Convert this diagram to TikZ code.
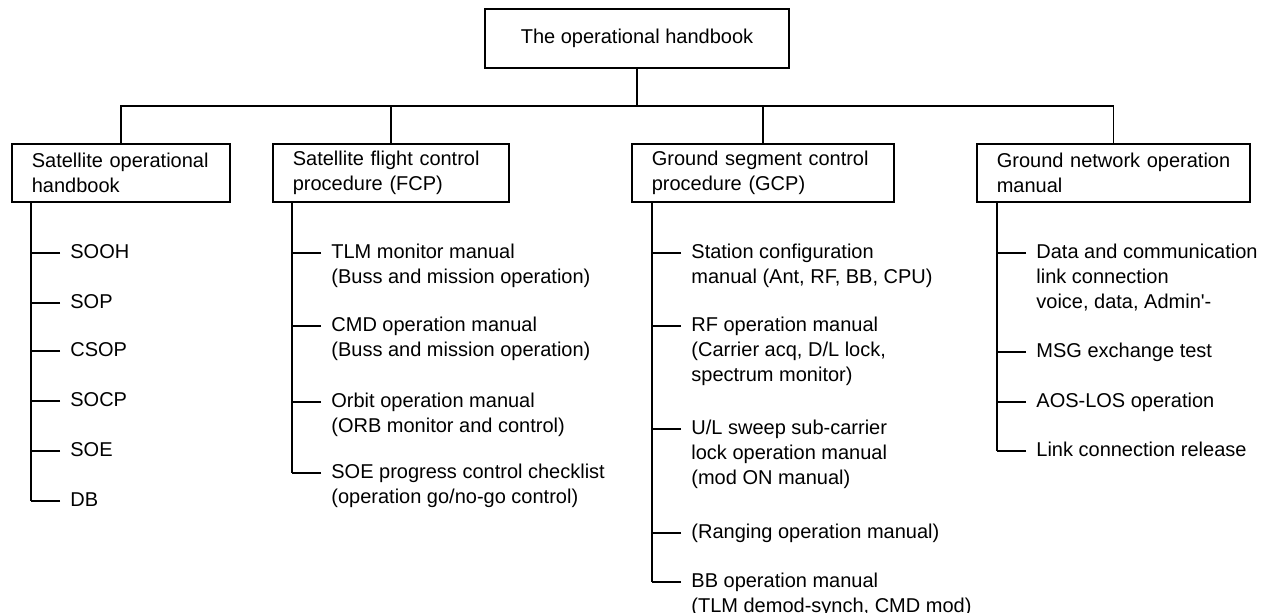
\documentclass[tikz,border=0pt]{standalone}
\usepackage{fontspec}
\setmainfont{Liberation Sans}
\usetikzlibrary{calc, positioning}

\tikzset{
    hbox/.style={draw, thick, align=left, inner xsep=10pt, inner ysep=0pt,
        minimum height=29pt, anchor=north west,
        font=\fontsize{10}{12.5}\selectfont},
    item/.style={align=left, inner sep=0pt, anchor=base west,
        font=\fontsize{10}{12.5}\selectfont},
    link/.style={thick}
}

\begin{document}
\begin{tikzpicture}[x=0.5pt, y=-0.5pt]
    \useasboundingbox (0,0) rectangle (1278,613);

    % 1. Hộp gốc và các hộp nhánh
    \node[draw, thick, minimum width=152pt, minimum height=29.5pt, inner sep=0pt,
        font=\fontsize{10}{12.5}\selectfont] (top) at (637,38.5) {The operational handbook};
    \node[hbox, text width=89pt] (b1) at (11,143) {Satellite operational\\handbook};
    \node[hbox, text width=98pt] (b2) at (272,143) {Satellite flight control\\procedure (FCP)};
    \node[hbox, text width=111pt] (b3) at (631,143) {Ground segment control\\procedure (GCP)};
    \node[hbox, text width=116.5pt] (b4) at (976,143) {\mbox{Ground network operation}\\manual};

    % 2. Thanh nối ngang
    \coordinate (bus) at (0,106);
    \draw[link] (top.south) -- (top.south |- bus);
    \draw[link] (b1.north) -- (b1.north |- bus) -- (b4.north |- bus) -- (b4.north);
    \draw[link] (b2.north) -- (b2.north |- bus);
    \draw[link] (b3.north) -- (b3.north |- bus);

    % 3. Nhánh con của hộp 1 (\n = số dòng)
    \foreach \y/\n/\txt [count=\i] in {253/1/SOOH, 303/1/SOP, 351/1/CSOP, 401/1/SOCP, 451/1/SOE, 501/1/DB} {
        \coordinate (ta\i) at (60,\y);
        \draw[link] (ta\i) -- ++(-29,0);
        \node[item] (ca\i) at ([xshift=5pt, yshift={-2.75pt-(\n-1)*12.5pt}]ta\i) {\txt};
    }
    \draw[link] ([xshift=10pt]b1.south west) -- ([xshift=10pt]b1.south west |- ta6);

    % 4. Nhánh con của hộp 2
    \foreach \y/\n/\txt [count=\i] in {
        253/2/{TLM monitor manual\\(Buss and mission operation)},
        326/2/{CMD operation manual\\(Buss and mission operation)},
        402/2/{Orbit operation manual\\(ORB monitor and control)},
        473/2/{SOE progress control checklist\\(operation go/no-go control)}} {
        \coordinate (tb\i) at (321,\y);
        \draw[link] (tb\i) -- ++(-29,0);
        \node[item] (cb\i) at ([xshift=5pt, yshift={-2.75pt-(\n-1)*12.5pt}]tb\i) {\txt};
    }
    \draw[link] ([xshift=10pt]b2.south west) -- ([xshift=10pt]b2.south west |- tb4);

    % 5. Nhánh con của hộp 3
    \foreach \y/\n/\txt [count=\i] in {
        253/2/{Station configuration\\manual (Ant, RF, BB, CPU)},
        326/3/{RF operation manual\\(Carrier acq, D/L lock,\\spectrum monitor)},
        429/3/{U/L sweep sub-carrier\\lock operation manual\\(mod ON manual)},
        533/1/{(Ranging operation manual)},
        582/2/{BB operation manual\\(TLM demod-synch, CMD mod)}} {
        \coordinate (tc\i) at (681,\y);
        \draw[link] (tc\i) -- ++(-29,0);
        \node[item] (cc\i) at ([xshift=5pt, yshift={-2.75pt-(\n-1)*12.5pt}]tc\i) {\txt};
    }
    \draw[link] ([xshift=10.5pt]b3.south west) -- ([xshift=10.5pt]b3.south west |- tc5);

    % 6. Nhánh con của hộp 4
    \foreach \y/\n/\txt [count=\i] in {
        253/3/{Data and communication\\link connection\\voice, data, Admin\textquotesingle-},
        352/1/{MSG exchange test},
        402/1/{AOS-LOS operation},
        451/1/{Link connection release}} {
        \coordinate (td\i) at (1026,\y);
        \draw[link] (td\i) -- ++(-29,0);
        \node[item] (cd\i) at ([xshift=5pt, yshift={-2.75pt-(\n-1)*12.5pt}]td\i) {\txt};
    }
    \draw[link] ([xshift=10.5pt]b4.south west) -- ([xshift=10.5pt]b4.south west |- td4);
\end{tikzpicture}
\end{document}
